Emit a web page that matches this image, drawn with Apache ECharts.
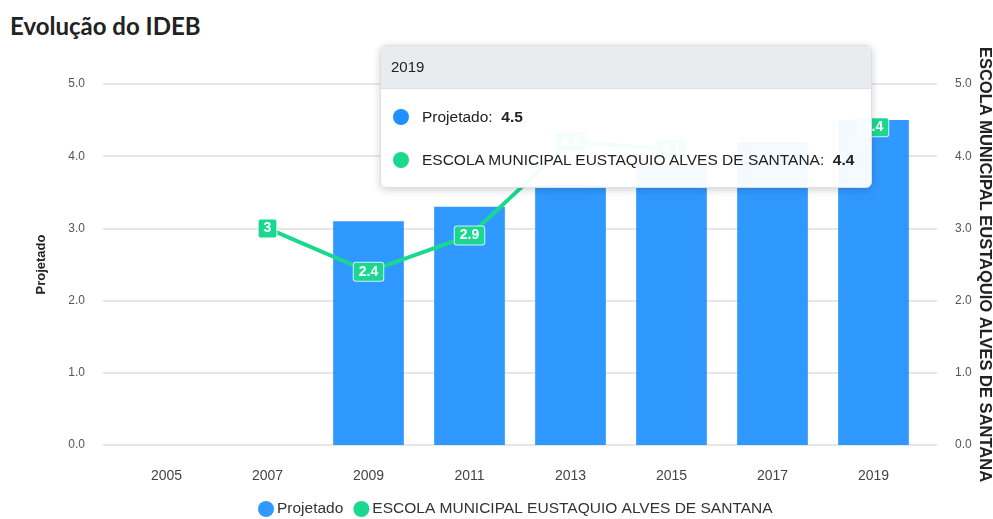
<!DOCTYPE html>
<html>
<head>
<meta charset="utf-8">
<title>Evolução do IDEB</title>
<script src="https://cdn.jsdelivr.net/npm/echarts@6/dist/echarts.min.js"></script>
<style>
  html, body { margin: 0; padding: 0; background: #fff; overflow: hidden; }
  #title {
    position: absolute; left: 10px; top: 11px;
    font-family: Lato, "Noto Sans", sans-serif; font-weight: bold;
    font-size: 24px; color: #222;
  }
  #chartContainer { position: absolute; left: 0; top: 44px; width: 993px; height: 475px; }
</style>
</head>
<body>
<div id="title">Evolução do IDEB</div>
<div id="chartContainer"></div>
<script>
const years = ["2005", "2007", "2009", "2011", "2013", "2015", "2017", "2019"];
const projetado = [null, null, 3.1, 3.3, 3.6, 3.9, 4.2, 4.5];
const escola = [null, 3, 2.4, 2.9, 4.2, 4.1, null, 4.4];
const yTicks = [0, 1, 2, 3, 4, 5];

const schoolName = "ESCOLA MUNICIPAL EUSTAQUIO ALVES DE SANTANA";
const blue = "#1E90FF";
const green = "#1AD98F";
const font = "'Liberation Sans', Arial, sans-serif";

/** tooltip html */
function tooltipHtml(params) {
  let html = `<div style="background:#e9ecef;height:42px;line-height:42px;padding:0 10px;font-size:15px;color:#222;border-bottom:1px solid #dde1e5">${params[0].name}</div>`;
  html += `<div style="padding:6px 12px">`;
  params.forEach(p => {
    if (p.value == null) return;
    html += `<div style="height:43px;line-height:43px;font-size:15.5px;color:#222">` +
      `<span style="display:inline-block;width:16px;height:16px;border-radius:50%;background:${p.color};vertical-align:-3px;margin-right:13px"></span>` +
      `${p.seriesName}:&nbsp; <b>${p.value}</b></div>`;
  });
  html += `</div>`;
  return html;
}

function yAxisOpt(name, pos, rotate, gap, size) {
  return {
    type: "value",
    position: pos,
    min: yTicks[0],
    max: yTicks[yTicks.length - 1],
    interval: 1,
    name: name,
    nameLocation: "middle",
    nameRotate: rotate,
    nameGap: gap,
    nameMoveOverlap: false,
    nameTextStyle: { fontFamily: font, fontWeight: "bold", fontSize: size, color: "#222" },
    axisLine: { show: false },
    axisTick: { show: true, length: 13, lineStyle: { color: "#e6e6e6", width: 2 } },
    axisLabel: {
      margin: 31,
      fontFamily: font, fontSize: 12, color: "#555",
      formatter: function(v) { return v.toFixed(1); }
    },
    splitLine: { lineStyle: { color: "#e6e6e6", width: 2 } }
  };
}

function drawChart() {
  var myChart = echarts.init(document.getElementById("chartContainer"));
  let option = {
    animation: false,
    textStyle: { fontFamily: font },
    grid: { left: 116, right: 69, top: 40, bottom: 74, outerBoundsMode: "none", containLabel: false },
    tooltip: {
      trigger: "axis",
      triggerOn: "none",
      alwaysShowContent: true,
      transitionDuration: 0,
      axisPointer: { type: "none" },
      padding: 0,
      borderWidth: 1,
      borderColor: "#dcdfe3",
      backgroundColor: "rgba(255,255,255,0.95)",
      extraCssText: "width:490px;border-radius:6px;overflow:hidden;box-shadow:0 2px 8px rgba(0,0,0,0.18);",
      position: function() { return [380, 1]; },
      formatter: tooltipHtml
    },
    legend: {
      top: 452,
      left: 253,
      icon: "circle",
      itemWidth: 16,
      itemHeight: 16,
      itemGap: 10,
      textStyle: { fontFamily: font, fontSize: 15.5, color: "#333", padding: [0, 0, 0, -2] },
      data: ["Projetado", schoolName]
    },
    xAxis: {
      type: "category",
      data: years,
      axisLine: { lineStyle: { color: "#e6e6e6", width: 2 } },
      axisTick: { alignWithLabel: true, length: 10, lineStyle: { color: "#e6e6e6", width: 2 } },
      axisLabel: { margin: 24, fontFamily: font, fontSize: 14, color: "#444" }
    },
    yAxis: [
      yAxisOpt("Projetado", "left", 90, 68, 13),
      yAxisOpt(schoolName, "right", -90, 52, 16.5)
    ],
    series: [
      {
        name: "Projetado",
        type: "bar",
        data: projetado,
        barWidth: "70%",
        emphasis: { disabled: true },
        itemStyle: { color: blue, opacity: 0.92 }
      },
      {
        name: schoolName,
        type: "line",
        yAxisIndex: 1,
        data: escola,
        symbol: "circle",
        symbolSize: 4,
        emphasis: { disabled: true },
        lineStyle: { color: green, width: 4 },
        itemStyle: { color: green },
        label: {
          show: true,
          position: "inside",
          color: "#fff",
          fontWeight: "bold",
          fontSize: 14,
          fontFamily: font,
          backgroundColor: green,
          borderColor: "rgba(255,255,255,0.8)",
          borderWidth: 1,
          borderRadius: 2,
          padding: [3, 5, 1, 5]
        }
      }
    ]
  };
  myChart.setOption(option);
  myChart.dispatchAction({ type: "showTip", seriesIndex: 0, dataIndex: years.length - 1 });
}

drawChart();
</script>
</body>
</html>
